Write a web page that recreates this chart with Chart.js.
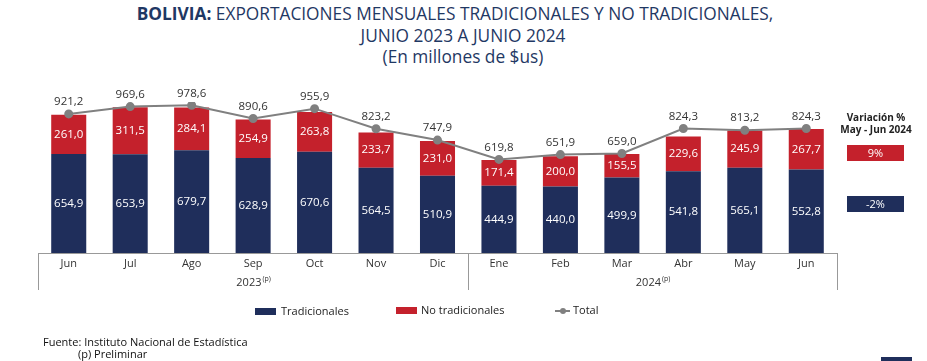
<!DOCTYPE html>
<html>
<head>
<meta charset="utf-8">
<script src="https://cdn.jsdelivr.net/npm/chart.js@4.4.1/dist/chart.umd.min.js"></script>
<style>
body{margin:0;width:927px;height:361px;background:#fff;position:relative;overflow:hidden;font-family:"Open Sans",sans-serif;color:#222;}
#wrap{position:absolute;left:0;top:0;width:927px;height:361px;}
.title{position:absolute;left:0;width:910px;text-align:center;color:#1f3864;font-size:17.3px;line-height:21px;font-family:"Open Sans",sans-serif;}
.title b{font-weight:bold;}
.var{position:absolute;left:830px;width:92px;text-align:center;font-size:10px;font-weight:bold;line-height:12px;color:#222;}
.box{position:absolute;left:847px;width:57px;height:16px;color:#fff;font-size:11px;line-height:16px;text-align:center;}
.leg{position:absolute;font-size:11px;line-height:14px;color:#222;}
.sw{position:absolute;width:21px;height:7px;}
.foot{position:absolute;font-size:11px;line-height:13px;color:#111;}
</style>
</head>
<body>
<div class="title" style="top:3px"><b>BOLIVIA:</b> EXPORTACIONES MENSUALES TRADICIONALES Y NO TRADICIONALES,</div>
<div class="title" style="top:25px;width:926px">JUNIO 2023 A JUNIO 2024</div>
<div class="title" style="top:46px;width:926px">(En millones de $us)</div>

<div id="wrap"><canvas id="chart"></canvas></div>

<div class="var" style="top:111px">Variación %<br>May - Jun 2024</div>
<div class="box" style="top:145px;background:#c4212c">9%</div>
<div class="box" style="top:196px;background:#1f2e5b">-2%</div>

<div class="sw" style="left:255px;top:308px;background:#1f2e5b"></div>
<div class="leg" style="left:281px;top:304px">Tradicionales</div>
<div class="sw" style="left:396px;top:307px;background:#c4212c"></div>
<div class="leg" style="left:421px;top:303px">No tradicionales</div>
<div style="position:absolute;left:555px;top:310px;width:15px;height:2px;background:#808080"></div>
<div style="position:absolute;left:560px;top:308px;width:6px;height:6px;border-radius:3px;background:#808080"></div>
<div class="leg" style="left:573px;top:303px">Total</div>

<div class="foot" style="left:43px;top:335px">Fuente: Instituto Nacional de Estadística</div>
<div class="foot" style="left:78px;top:347px">(p) Preliminar</div>
<div style="position:absolute;left:881px;top:357px;width:31px;height:4px;background:#1f2e5b"></div>

<script>
var meses = ['Jun','Jul','Ago','Sep','Oct','Nov','Dic','Ene','Feb','Mar','Abr','May','Jun'];
var tradicionales = [654.9, 653.9, 679.7, 628.9, 670.6, 564.5, 510.9, 444.9, 440.0, 499.9, 541.8, 565.1, 552.8];
var noTradicionales = [261.0, 311.5, 284.1, 254.9, 263.8, 233.7, 231.0, 171.4, 200.0, 155.5, 229.6, 245.9, 267.7];
var totales = [921.2, 969.6, 978.6, 890.6, 955.9, 823.2, 747.9, 619.8, 651.9, 659.0, 824.3, 813.2, 824.3];
var gestiones = [
    {label:'2023', desde:0, hasta:6},
    {label:'2024', desde:7, hasta:12}
];

function fmt(v){
    return v.toFixed(1).replace('.', ',');
}

// etiquetas de valores, años y lineas del eje
var etiquetas = {
    id:'etiquetas',
    afterDatasetsDraw:function(chart){
        var ctx = chart.ctx;
        var x = chart.scales.x;
        var area = chart.chartArea;
        ctx.save();
        ctx.textAlign = 'center';
        ctx.textBaseline = 'middle';
        ctx.font = '11.5px "Open Sans"';
        [0,1].forEach(function(di){
            chart.getDatasetMeta(di).data.forEach(function(bar, i){
                var p = bar.getProps(['x','y','base'], true);
                ctx.fillStyle = '#fff';
                ctx.fillText(fmt(chart.data.datasets[di].data[i]), p.x, (p.y + p.base) / 2);
            });
        });
        chart.getDatasetMeta(2).data.forEach(function(pt, i){
            ctx.fillStyle = '#333';
            ctx.fillText(fmt(totales[i]), pt.x, pt.y - 12);
        });

        // separadores del eje
        var half = (x.getPixelForValue(1) - x.getPixelForValue(0)) / 2;
        ctx.strokeStyle = '#999';
        ctx.lineWidth = 1;
        var cortes = [area.left, x.getPixelForValue(6) + half, area.right];
        cortes.forEach(function(cx){
            cx = Math.round(cx) + 0.5;
            ctx.beginPath();
            ctx.moveTo(cx, area.bottom);
            ctx.lineTo(cx, area.bottom + 37);
            ctx.stroke();
        });

        // años
        gestiones.forEach(function(g){
            var cx = (x.getPixelForValue(g.desde) + x.getPixelForValue(g.hasta)) / 2;
            ctx.font = '11px "Open Sans"';
            var w1 = ctx.measureText(g.label).width;
            ctx.font = '7px "Open Sans"';
            var w2 = ctx.measureText('(p)').width;
            var left = cx - (w1 + w2) / 2;
            ctx.fillStyle = '#333';
            ctx.textAlign = 'left';
            ctx.font = '11px "Open Sans"';
            ctx.fillText(g.label, left, area.bottom + 30);
            ctx.font = '7px "Open Sans"';
            ctx.fillText('(p)', left + w1 + 1, area.bottom + 26);
        });
        ctx.restore();
    }
};

var chart = new Chart(document.getElementById('chart'), {
    type:'bar',
    data:{
        labels:meses,
        datasets:[{
            label:'Tradicionales',
            data:tradicionales,
            backgroundColor:'#1f2e5b',
            stack:'exp',
            order:2
        },{
            label:'No tradicionales',
            data:noTradicionales,
            backgroundColor:'#c4212c',
            stack:'exp',
            order:2
        },{
            type:'line',
            label:'Total',
            data:totales,
            borderColor:'#808080',
            backgroundColor:'#808080',
            borderWidth:2,
            pointRadius:3.5,
            pointBackgroundColor:'#808080',
            stack:'total',
            order:1
        }]
    },
    options:{
        responsive:true,
        maintainAspectRatio:false,
        animation:false,
        layout:{
            padding:{left:38, right:90, top:102, bottom:71}
        },
        datasets:{
            bar:{categoryPercentage:1, barPercentage:0.57}
        },
        plugins:{
            legend:{display:false},
            tooltip:{enabled:false}
        },
        scales:{
            x:{
                stacked:true,
                grid:{display:false, drawTicks:false},
                border:{display:true, color:'#999'},
                ticks:{color:'#333', font:{family:'Open Sans', size:11}, padding:4},
                afterFit:function(scale){ scale.height = 37; }
            },
            y:{
                display:false,
                stacked:true,
                min:0,
                max:1000
            }
        }
    },
    plugins:[etiquetas]
});
</script>
</body>
</html>
